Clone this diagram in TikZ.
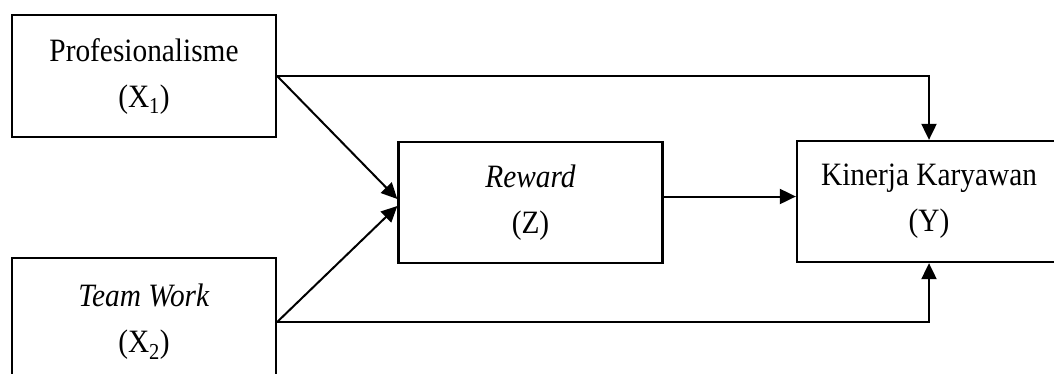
\documentclass[tikz,border=0pt]{standalone}
\usepackage{fontspec}
\setmainfont[FakeStretch=0.9]{Liberation Serif}
\usetikzlibrary{arrows.meta}
\begin{document}
\begin{tikzpicture}[x=1pt,y=-1pt,
  varbox/.style={draw, line width=2.3pt, rectangle, minimum width=264pt, inner sep=0pt,
    align=center, font=\fontsize{32.6pt}{46pt}\selectfont},
  arr/.style={line width=2pt, -{Triangle[length=16pt,width=15pt]}}]
  \useasboundingbox (0,0) rectangle (1054,373);
  % variables of the research model
  \node[varbox, minimum height=122pt] (X1) at (144,76) {Profesionalisme\\(X\textsubscript{1})};
  \node[varbox, minimum height=128pt] (X2) at (144,322) {\textit{Team Work}\\(X\textsubscript{2})};
  \node[varbox, minimum height=121pt] (Z) at (530.5,202.5) {\textit{Reward}\\(Z)};
  \node[varbox, minimum height=121pt] (Y) at (929,201.5) {Kinerja Karyawan\\(Y)};
  % paths between the variables
  \draw[arr] (X1.east) -- ([yshift=3.5pt]Z.west);
  \draw[arr] (X2.east) -- ([yshift=-3.5pt]Z.west);
  \draw[arr] (X1.east) -| (Y.north);
  \draw[arr] (X2.east) -| (Y.south);
  \draw[arr] ([yshift=6pt]Z.east) -- ([yshift=6pt]Z.east -| Y.west);
\end{tikzpicture}
\end{document}
